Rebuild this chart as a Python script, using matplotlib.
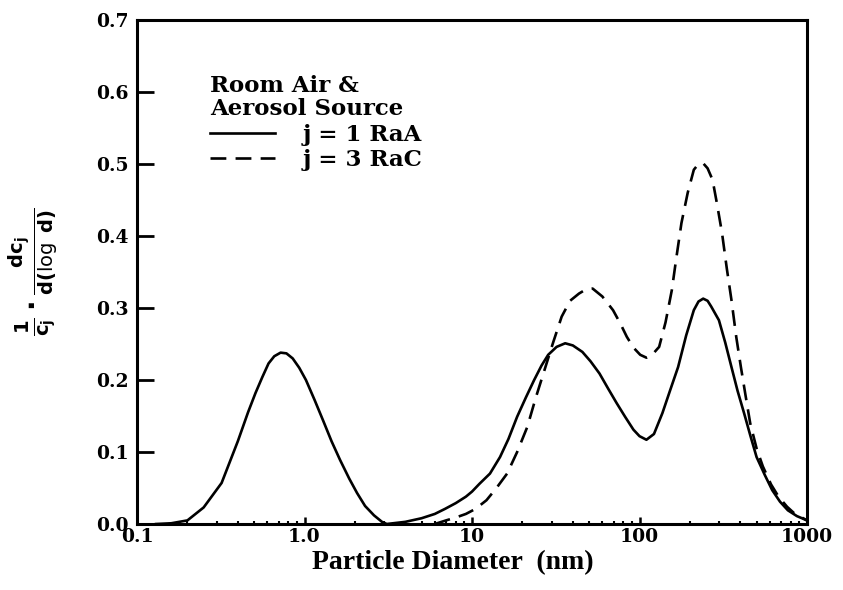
import matplotlib
matplotlib.use("Agg")
import matplotlib.pyplot as plt
from matplotlib.ticker import FixedLocator, FixedFormatter, LogLocator, NullFormatter

# particle diameter (nm) and normalised activity distributions
d_raa = [0.13, 0.16, 0.2, 0.25, 0.32, 0.40, 0.46, 0.51, 0.56, 0.61, 0.66, 0.72,
         0.78, 0.85, 0.93, 1.02, 1.15, 1.29, 1.45, 1.63, 1.85, 2.06, 2.3, 2.6,
         2.9, 3.1, 4.0, 5.0, 6.0, 6.9, 8.0, 9.2, 10, 11.1, 12.8, 14.7, 16.5,
         18.6, 21, 23.5, 26, 28.5, 32, 36, 40, 45.6, 51, 57.7, 65, 73, 82, 92,
         100, 110, 122, 137, 152, 170, 190, 211, 225, 240, 255, 268, 298, 325,
         354, 385, 421, 460, 500, 560, 620, 690, 769, 870, 1000]
y_raa = [0.0, 0.001, 0.005, 0.023, 0.057, 0.115, 0.155, 0.182, 0.204, 0.223,
         0.233, 0.238, 0.237, 0.230, 0.217, 0.200, 0.172, 0.144, 0.115, 0.089,
         0.063, 0.043, 0.025, 0.012, 0.003, 0.0, 0.003, 0.008, 0.014, 0.021,
         0.029, 0.038, 0.045, 0.056, 0.070, 0.093, 0.118, 0.149, 0.176, 0.200,
         0.220, 0.235, 0.246, 0.251, 0.248, 0.239, 0.226, 0.209, 0.188, 0.168,
         0.149, 0.131, 0.122, 0.117, 0.125, 0.154, 0.185, 0.218, 0.262, 0.297,
         0.309, 0.313, 0.310, 0.302, 0.283, 0.252, 0.218, 0.185, 0.154, 0.122,
         0.093, 0.068, 0.047, 0.031, 0.019, 0.011, 0.005]

d_rac = [6.0, 7.0, 8.0, 9.2, 10.5, 12.2, 14, 16.2, 18.6, 21.4, 24, 27.1, 30.5,
         34.3, 38.5, 43.5, 48, 52.5, 60, 69.5, 77, 84, 92, 101, 110, 120, 131,
         143, 156, 166, 178, 194, 211, 225, 240, 255, 273, 290, 311, 332, 354,
         378, 403, 430, 458, 500, 545, 610, 676, 760, 838, 1000]
y_rac = [0.0, 0.005, 0.009, 0.014, 0.021, 0.033, 0.050, 0.070, 0.100, 0.135,
         0.175, 0.214, 0.252, 0.288, 0.310, 0.320, 0.326, 0.327, 0.316, 0.297,
         0.278, 0.260, 0.245, 0.235, 0.231, 0.236, 0.246, 0.280, 0.325, 0.370,
         0.418, 0.460, 0.492, 0.500, 0.501, 0.494, 0.478, 0.445, 0.404, 0.355,
         0.311, 0.260, 0.218, 0.178, 0.140, 0.105, 0.080, 0.055, 0.038, 0.024,
         0.015, 0.005]

x_ticks = [0.1, 1, 10, 100, 1000]
x_labels = ["0.1", "1.0", "10", "100", "1000"]
y_ticks = [0.0, 0.1, 0.2, 0.3, 0.4, 0.5, 0.6, 0.7]
y_labels = ["0.0", "0.1", "0.2", "0.3", "0.4", "0.5", "0.6", "0.7"]

plt.rcParams["mathtext.fontset"] = "dejavusans"
plt.rcParams["mathtext.default"] = "bf"

fig = plt.figure(figsize=(8.43, 5.90), dpi=100)
ax = fig.add_axes([137 / 843, 66 / 590, 670 / 843, 504 / 590])

ax.plot(d_raa, y_raa, color="black", lw=1.9, solid_joinstyle="round",
        label="j = 1 RaA")
ax.plot(d_rac, y_rac, color="black", lw=1.9, dashes=(6, 3.5),
        dash_joinstyle="round", label="j = 3 RaC")

ax.set_xscale("log")
ax.set_xlim(0.1, 1000)
ax.set_ylim(0, 0.7)

ax.xaxis.set_major_locator(FixedLocator(x_ticks))
ax.xaxis.set_major_formatter(FixedFormatter(x_labels))
ax.xaxis.set_minor_locator(LogLocator(base=10, subs=range(2, 10)))
ax.xaxis.set_minor_formatter(NullFormatter())
ax.set_yticks(y_ticks)
ax.set_yticklabels(y_labels)

for lab in ax.get_xticklabels() + ax.get_yticklabels():
    lab.set_fontfamily("DejaVu Serif")
    lab.set_fontweight("bold")
    lab.set_fontsize(13.5)

ax.tick_params(axis="x", which="major", direction="in", length=5, width=1.8, pad=3)
ax.tick_params(axis="x", which="minor", direction="in", length=2.5, width=1.5)
ax.tick_params(axis="y", which="major", direction="in", length=12, width=2, pad=6)
for sp in ax.spines.values():
    sp.set_linewidth(2.2)

ax.set_xlabel("Particle Diameter  (nm)", fontfamily="Liberation Serif",
              fontweight="bold", fontsize=20, va="center")
ax.xaxis.set_label_coords(0.472, -0.076)
ax.set_ylabel(r"$\frac{1}{c_j}\cdot\frac{dc_j}{d(\log\ d)}$", fontsize=20, labelpad=26)

leg = ax.legend(loc="upper left", bbox_to_anchor=(0.095, 0.91), frameon=False,
                title="Room Air &\nAerosol Source", alignment="left",
                handlelength=2.85, handletextpad=1.2, labelspacing=0.15,
                borderaxespad=0, prop=dict(family="DejaVu Serif", weight="bold", size=16.5))
leg.get_title().set_fontfamily("DejaVu Serif")
leg.get_title().set_fontweight("bold")
leg.get_title().set_fontsize(16.5)
leg.get_title().set_linespacing(1.1)

fig.savefig("out.png", dpi=100)
